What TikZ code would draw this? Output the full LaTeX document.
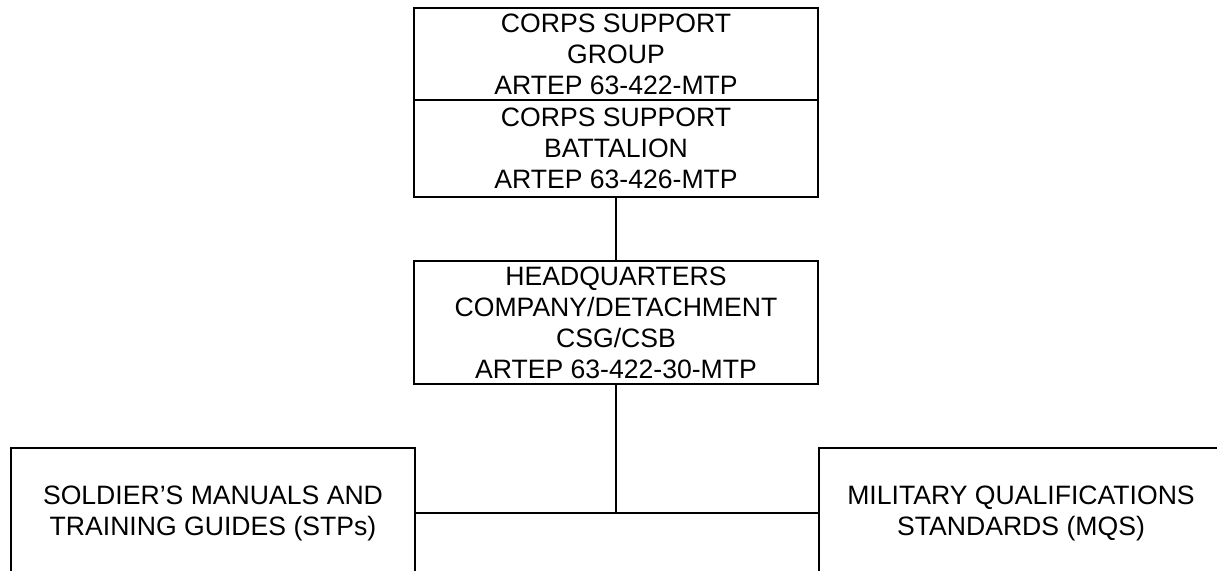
\documentclass[tikz,border=0pt]{standalone}
\usepackage{fontspec}
\setmainfont{Liberation Sans}
\begin{document}
\begin{tikzpicture}[x=0.5pt,y=-0.5pt,
  box/.style={draw,line width=1.3pt,minimum width=202pt,align=center,inner sep=0pt,outer sep=0pt,
    font=\fontsize{13.3pt}{15.5pt}\selectfont},
  link/.style={line width=1.3pt}]
\useasboundingbox (0,0) rectangle (1217,571);
\clip (0,0) rectangle (1217,571);
\node[box,minimum height=46pt] (csg) at (616,54) {CORPS SUPPORT\\GROUP\\ARTEP 63-422-MTP};
\node[box,minimum height=48.5pt,anchor=north] (csb) at (csg.south) {CORPS SUPPORT\\BATTALION\\ARTEP 63-426-MTP};
\node[box,minimum height=61.5pt] (hq) at (616,322.5) {HEADQUARTERS\\COMPANY/DETACHMENT\\CSG/CSB\\ARTEP 63-422-30-MTP};
\node[box,minimum height=65pt] (stp) at (213,513) {SOLDIER’S MANUALS AND\\TRAINING GUIDES (STPs)};
\node[box,minimum height=65pt] (mqs) at (1021,513) {MILITARY QUALIFICATIONS\\STANDARDS (MQS)};
\coordinate (j) at (hq.south |- stp.east);
\draw[link] (csb.south) -- (hq.north);
\draw[link] (hq.south) -- (j);
\draw[link] (stp.east) -- (mqs.west);
\end{tikzpicture}
\end{document}
